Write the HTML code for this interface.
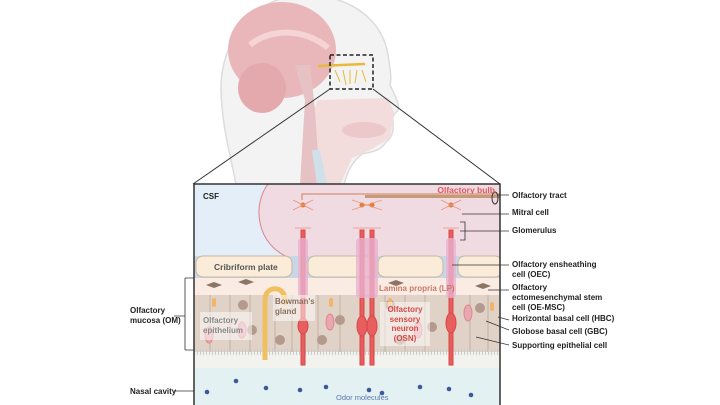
<!DOCTYPE html>
<html><head><meta charset="utf-8"><style>
html,body{margin:0;padding:0;background:#fff;}
svg{display:block;}
text{font-family:"Liberation Sans",sans-serif;}
.l{font-size:8px;font-weight:bold;fill:#222;}
</style></head><body>
<svg width="720" height="405" viewBox="0 0 720 405" xmlns="http://www.w3.org/2000/svg">
<!-- head -->
<path d="M236,185 C232,160 222,130 221,90 C220,40 255,-5 305,-5 C350,-5 383,20 388,55 C390,68 392,78 390,85 C396,98 400,105 398,110 C394,115 392,116 393,122 C394,130 392,138 386,142 C380,152 370,152 362,154 C352,162 347,172 344,185 Z" fill="#f3f3f4" stroke="#dcdcde" stroke-width="1.5"/>
<path d="M318,100 L388,98 L394,112 L390,138 L370,150 L352,158 L340,185 L300,185 L305,130 Z" fill="#f3dcdc"/>
<ellipse cx="364" cy="130" rx="22" ry="8" fill="#ecc8cb"/>
<ellipse cx="282" cy="50" rx="54" ry="48" fill="#e9b7b9"/>
<ellipse cx="262" cy="88" rx="24" ry="25" fill="#e3a9ad"/>
<path d="M250,45 C270,28 305,28 328,48" stroke="#f4d4d4" stroke-width="6" fill="none"/>
<path d="M295,65 L305,100 L300,185 L320,185 L315,110 L310,65 Z" fill="#e6c2c5"/>
<path d="M312,150 L320,150 L327,185 L317,185 Z" fill="#cfe0ea"/>
<path d="M318,66 L365,64" stroke="#e8b93a" stroke-width="2.5"/>
<path d="M335,70 L340,82 M343,70 L346,85 M350,70 L350,84 M357,70 L355,83 M362,70 L366,82" stroke="#e8b93a" stroke-width="1"/>
<rect x="330" y="55" width="43" height="34" fill="none" stroke="#222" stroke-width="1.5" stroke-dasharray="4,2.5"/>
<line x1="330" y1="89" x2="193" y2="184" stroke="#333" stroke-width="1"/>
<line x1="373" y1="89" x2="500" y2="184" stroke="#333" stroke-width="1"/>
<!-- main box -->
<clipPath id="c"><rect x="194" y="184" width="306" height="221"/></clipPath>
<g clip-path="url(#c)">
<rect x="194" y="184" width="306" height="221" fill="#e3eef8"/>
<path d="M268,184 C252,205 256,245 290,258 L500,258 L500,184 Z" fill="#f1dbe2" stroke="#d9848f" stroke-width="1"/>
<rect x="194" y="256" width="306" height="22" fill="#c8d6e6"/>
<rect x="196" y="256" width="96" height="21" rx="7" fill="#fbecd9" stroke="#c9b79e"/>
<rect x="308" y="256" width="67" height="21" rx="7" fill="#fbecd9" stroke="#c9b79e"/>
<rect x="378" y="256" width="65" height="21" rx="7" fill="#fbecd9" stroke="#c9b79e"/>
<rect x="458" y="256" width="44" height="21" rx="7" fill="#fbecd9" stroke="#c9b79e"/>
<rect x="194" y="278" width="306" height="17" fill="#faebe3"/>
<rect x="194" y="295" width="306" height="57" fill="#e0d2c6"/>
<g stroke="#bfa998" stroke-width="0.8" fill="none">
<path d="M210,295V352M230,295V352M250,295V352M275,295V352M292,295V352M318,295V352M340,295V352M385,295V352M405,295V352M425,295V352M470,295V352M488,295V352"/>
</g>
<g fill="#b49a8c"><circle cx="243" cy="305" r="5"/><circle cx="252" cy="330" r="5"/><circle cx="280" cy="340" r="5"/><circle cx="340" cy="320" r="5"/><circle cx="390" cy="305" r="5"/><circle cx="400" cy="340" r="5"/><circle cx="432" cy="327" r="5"/><circle cx="480" cy="308" r="5"/><circle cx="322" cy="340" r="5"/></g>
<rect x="194" y="352" width="306" height="16" fill="#f2f2ef"/>
<path d="M194,352 L500,352" stroke="#ccc" stroke-width="6" stroke-dasharray="1,2"/>
<rect x="194" y="368" width="306" height="37" fill="#e4f1f2"/>
<g fill="#3c5a9a"><circle cx="236" cy="381" r="2.3"/><circle cx="207" cy="392" r="2.3"/><circle cx="266" cy="388" r="2.3"/><circle cx="300" cy="390" r="2.3"/><circle cx="326" cy="387" r="2.3"/><circle cx="369" cy="390" r="2.3"/><circle cx="382" cy="393" r="2.3"/><circle cx="420" cy="387" r="2.3"/><circle cx="449" cy="389" r="2.3"/><circle cx="471" cy="395" r="2.3"/></g>
<!-- tract -->
<path d="M302,200 V194 H500" stroke="#c9805a" stroke-width="1" fill="none"/>
<rect x="365" y="195" width="135" height="3" fill="#c59a78"/>
<ellipse cx="495" cy="198" rx="3" ry="6" fill="none" stroke="#333"/>
<!-- bowman -->
<path d="M265,360 V300 C265,285 285,285 285,300 V305" stroke="#f0c060" stroke-width="5" fill="none"/>
<!-- neurons -->
<g fill="#e85d5d" stroke="#d84848">
<rect x="301" y="230" width="4" height="135"/><ellipse cx="303" cy="326" rx="5" ry="8"/>
<rect x="360" y="230" width="4" height="135"/><ellipse cx="362" cy="326" rx="5" ry="10"/>
<rect x="370" y="230" width="4" height="135"/><ellipse cx="372" cy="326" rx="5" ry="10"/>
<rect x="449" y="230" width="4" height="135"/><ellipse cx="451" cy="323" rx="5" ry="10"/>
</g>
<g fill="#eab2cf" opacity="0.8"><rect x="298" y="238" width="10" height="60" rx="4"/><rect x="356" y="238" width="22" height="60" rx="4"/><rect x="446" y="238" width="10" height="60" rx="4"/></g>
<g fill="#e67a30"><circle cx="303" cy="205" r="2.5"/><circle cx="362" cy="205" r="2.5"/><circle cx="372" cy="205" r="2.5"/><circle cx="451" cy="205" r="2.5"/></g>
<g stroke="#e8957a" stroke-width="0.8" fill="none">
<path d="M293,200l20,10M313,200l-20,10M352,200l30,10M382,200l-30,10M441,200l20,10M461,200l-20,10M295,228h16M353,228h28M443,228h16"/>
</g>
<g fill="#e9a7b3" stroke="#d88"><ellipse cx="242" cy="330" rx="4" ry="8"/><ellipse cx="330" cy="322" rx="4" ry="8"/><ellipse cx="418" cy="330" rx="4" ry="8"/><ellipse cx="468" cy="313" rx="4" ry="8"/><ellipse cx="209" cy="335" rx="4" ry="8"/></g>
<g fill="#f3b46a"><rect x="212" y="298" width="4" height="9" rx="2"/><rect x="329" y="298" width="4" height="9" rx="2"/><rect x="388" y="298" width="4" height="9" rx="2"/><rect x="490" y="302" width="4" height="9" rx="2"/></g>
<g fill="#8c7565"><path d="M206,285l8,-3 8,3 -8,3z"/><path d="M238,282l8,-3 8,3 -8,3z"/><path d="M388,283l8,-3 8,3 -8,3z"/><path d="M475,286l8,-3 8,3 -8,3z"/></g>
</g>
<rect x="194" y="184" width="306" height="225" fill="none" stroke="#333" stroke-width="1.5"/>
<!-- inner labels -->
<text x="203" y="199" class="l" font-size="8">CSF</text>
<text x="495" y="193" text-anchor="end" style="font-size:8.5px;font-weight:bold;fill:#e05560">Olfactory bulb</text>
<text x="214" y="270" style="font-size:8.5px;font-weight:bold;fill:#555">Cribriform plate</text>
<text x="379" y="291" style="font-size:8px;font-weight:bold;fill:#c87a6a">Lamina propria (LP)</text>
<rect x="273" y="295" width="42" height="26" fill="#fff" opacity="0.5"/>
<text x="275" y="304" style="font-size:8px;font-weight:bold;fill:#8a7060">Bowman's</text>
<text x="275" y="314" style="font-size:8px;font-weight:bold;fill:#8a7060">gland</text>
<rect x="200" y="312" width="52" height="28" fill="#fff" opacity="0.5"/>
<text x="203" y="323" style="font-size:8px;font-weight:bold;fill:#8a8a8a">Olfactory</text>
<text x="203" y="333" style="font-size:8px;font-weight:bold;fill:#8a8a8a">epithelium</text>
<rect x="380" y="302" width="50" height="44" fill="#fff" opacity="0.5"/>
<g style="font-size:8px;font-weight:bold;fill:#d84848" text-anchor="middle"><text x="405" y="312">Olfactory</text><text x="405" y="322">sensory</text><text x="405" y="331">neuron</text><text x="405" y="341">(OSN)</text></g>
<text x="336" y="400" style="font-size:7.5px;fill:#5a7ab0">Odor molecules</text>
<!-- leaders -->
<g stroke="#333" stroke-width="0.8" fill="none">
<path d="M498,195H509M462,214H509M460,231H509M460,222h5v18h-5M452,265H509M488,290H509M498,317L509,320M486,321L509,330M476,337L509,345M185,278V350M185,278h9M185,350h9M174,316h11M174,391h20"/>
</g>
<g class="l">
<text x="512" y="198">Olfactory tract</text>
<text x="512" y="215">Mitral cell</text>
<text x="512" y="233">Glomerulus</text>
<text x="512" y="267">Olfactory ensheathing</text>
<text x="512" y="277">cell (OEC)</text>
<text x="512" y="290">Olfactory</text>
<text x="512" y="300">ectomesenchymal stem</text>
<text x="512" y="310">cell (OE-MSC)</text>
<text x="512" y="321">Horizontal basal cell (HBC)</text>
<text x="512" y="334">Globose basal cell (GBC)</text>
<text x="512" y="348">Supporting epithelial cell</text>
<text x="130" y="313">Olfactory</text>
<text x="130" y="323">mucosa (OM)</text>
<text x="130" y="394">Nasal cavity</text>
</g>
</svg>
</body></html>
